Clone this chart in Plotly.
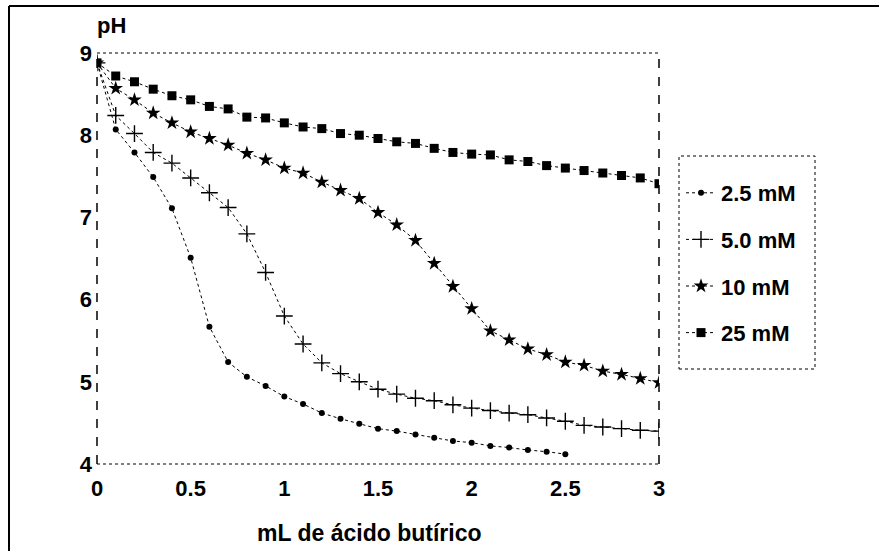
import plotly.graph_objects as go

# Data
x_vals = [round(0.1 * i, 1) for i in range(31)]

ph_2_5 = [8.88, 8.07, 7.79, 7.49, 7.11, 6.51, 5.67, 5.24, 5.06, 4.95, 4.82,
          4.73, 4.62, 4.55, 4.49, 4.43, 4.40, 4.36, 4.32, 4.28, 4.26,
          4.22, 4.20, 4.17, 4.15, 4.12]
ph_5_0 = [8.88, 8.24, 8.02, 7.79, 7.66, 7.48, 7.30, 7.12, 6.80, 6.33, 5.80,
          5.46, 5.23, 5.10, 5.00, 4.91, 4.85, 4.80, 4.77, 4.72, 4.68,
          4.65, 4.62, 4.60, 4.56, 4.52, 4.47, 4.45, 4.43, 4.41, 4.40]
ph_10 = [8.88, 8.57, 8.43, 8.27, 8.15, 8.04, 7.96, 7.88, 7.78, 7.70, 7.60,
         7.54, 7.43, 7.33, 7.23, 7.06, 6.91, 6.72, 6.44, 6.16, 5.89,
         5.62, 5.51, 5.40, 5.33, 5.24, 5.20, 5.13, 5.09, 5.04, 4.99]
ph_25 = [8.88, 8.72, 8.65, 8.56, 8.48, 8.43, 8.35, 8.32, 8.22, 8.21, 8.15,
         8.10, 8.08, 8.02, 8.00, 7.96, 7.92, 7.90, 7.84, 7.79, 7.77,
         7.76, 7.70, 7.68, 7.63, 7.60, 7.57, 7.54, 7.51, 7.48, 7.41]

series_names = ["2.5 mM", "5.0 mM", "10 mM", "25 mM"]
x_ticks = [0, 0.5, 1, 1.5, 2, 2.5, 3]
x_tick_labels = ["0", "0.5", "1", "1.5", "2", "2.5", "3"]
y_ticks = [4, 5, 6, 7, 8, 9]
y_tick_labels = ["4", "5", "6", "7", "8", "9"]
x_title = "mL de ácido butírico"
y_title = "pH"

FONT = "Liberation Sans, Arial, sans-serif"
FS = 22

fig = go.Figure()

styles = [
    dict(symbol="circle", size=6, line=dict(width=0)),
    dict(symbol="cross-thin", size=12, line=dict(width=1.4, color="black")),
    dict(symbol="star", size=11, line=dict(width=0)),
    dict(symbol="square", size=9, line=dict(width=0)),
]
data = [ph_2_5, ph_5_0, ph_10, ph_25]

for i, (name, ys, st) in enumerate(zip(series_names, data, styles)):
    fig.add_trace(go.Scatter(
        x=x_vals[:len(ys)], y=ys, name=name, mode="lines+markers",
        legendgroup=f"g{i}",
        line=dict(color="black", width=1, dash="dot"),
        marker=dict(color="black", **st),
    ))

L, R, T, B = 97, 659, 53, 464
W, H = 879, 551

def px_x(p):
    return (p - L) / (R - L)

def px_y(p):
    return (B - p) / (B - T)

fig.update_layout(
    width=W, height=H,
    margin=dict(l=L, r=W - R, t=T, b=H - B),
    paper_bgcolor="white", plot_bgcolor="white",
    font=dict(family=FONT, size=FS, color="black"),
    showlegend=True,
    legend=dict(
        x=px_x(681), y=px_y(172),
        xanchor="left", yanchor="top",
        bgcolor="rgba(0,0,0,0)", borderwidth=0,
        font=dict(family=FONT, size=FS, color="black", weight="bold"),
        itemwidth=30, tracegroupgap=15, traceorder="grouped",
    ),
    xaxis=dict(
        range=[0, 3], tickvals=x_ticks, ticktext=x_tick_labels,
        showgrid=False, zeroline=False, showline=False, ticks="",
        tickfont=dict(size=FS, weight="bold"), ticklabelstandoff=9,
    ),
    yaxis=dict(
        range=[4, 9], tickvals=y_ticks, ticktext=y_tick_labels,
        showgrid=False, zeroline=False, showline=False, ticks="",
        tickfont=dict(size=FS, weight="bold"), ticklabelstandoff=4,
    ),
)

shapes = [
    # plot frame
    dict(type="line", xref="paper", yref="paper", x0=0, x1=1, y0=1, y1=1,
         line=dict(color="black", width=1, dash="dot")),
    dict(type="line", xref="paper", yref="paper", x0=0, x1=1, y0=0, y1=0,
         line=dict(color="black", width=1, dash="dot")),
    dict(type="line", xref="paper", yref="paper", x0=0, x1=0, y0=0, y1=1,
         line=dict(color="black", width=1.5, dash="dash")),
    dict(type="line", xref="paper", yref="paper", x0=1, x1=1, y0=0, y1=1,
         line=dict(color="black", width=1.5, dash="dash")),
    # legend box
    dict(type="rect", xref="paper", yref="paper",
         x0=px_x(679), x1=px_x(815), y0=px_y(369), y1=px_y(156),
         line=dict(color="black", width=1, dash="dot")),
    # outer frame (top and left)
    dict(type="line", xref="paper", yref="paper",
         x0=px_x(9), x1=px_x(879), y0=px_y(6), y1=px_y(6),
         line=dict(color="black", width=2)),
    dict(type="line", xref="paper", yref="paper",
         x0=px_x(9), x1=px_x(9), y0=px_y(6), y1=px_y(551),
         line=dict(color="black", width=2)),
]
fig.update_layout(shapes=shapes)

fig.add_annotation(
    text=y_title, xref="paper", yref="paper", x=px_x(95), y=px_y(26),
    xanchor="left", yanchor="middle", showarrow=False,
    font=dict(family=FONT, size=FS, color="black", weight="bold"),
)
fig.add_annotation(
    text=x_title, xref="paper", yref="paper", x=px_x(369), y=px_y(533),
    xanchor="center", yanchor="middle", showarrow=False,
    font=dict(family=FONT, size=23, color="black", weight="bold"),
)

fig.write_html("out.html",
               config={"displayModeBar": False},
               post_script="document.body.style.margin='0';")
